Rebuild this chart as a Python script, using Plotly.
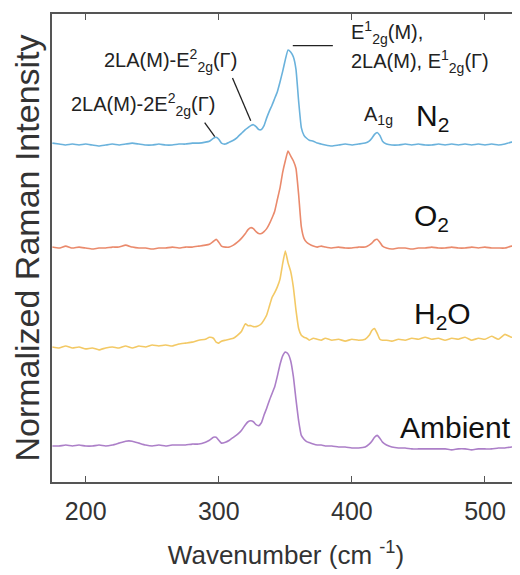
import plotly.graph_objects as go

# ---------------- data ----------------
wavenumber = [175, 180, 185, 190, 195, 200, 205, 210, 215, 220, 225, 230, 235, 240, 245, 250,
              255, 260, 265, 270, 275, 280, 285, 290,
              293, 296, 298, 300, 302, 305, 308, 311, 314, 317, 320, 322, 324, 326, 328, 330,
              332, 334, 336, 338, 340, 342, 344, 346, 348, 350, 352, 354, 356, 358, 360, 362,
              364, 366, 368, 371, 374, 377, 380,
              385, 390, 395, 400, 405, 410, 413, 415, 417, 419, 421, 423, 426, 430,
              435, 440, 445, 450, 455, 460, 465, 470, 475, 480, 485, 490, 495, 500, 505, 510,
              515, 520, 525]

n2 = [0.02, 0.01, 0.00, 0.01, 0.00, 0.01, 0.00, -0.01, 0.00, 0.01, 0.00, 0.01, 0.02, 0.01, 0.00, 0.00,
      0.01, 0.00, 0.00, 0.01, 0.01, 0.02, 0.02, 0.03,
      0.04, 0.07, 0.08, 0.06, 0.02, 0.01, 0.03, 0.05, 0.08, 0.12, 0.16, 0.18, 0.20, 0.21, 0.19, 0.16,
      0.16, 0.20, 0.28, 0.35, 0.41, 0.48, 0.55, 0.65, 0.76, 0.88, 0.98, 0.96, 0.91, 0.78, 0.45, 0.18,
      0.10, 0.07, 0.05, 0.04, 0.02, 0.01, 0.00,
      -0.01, 0.00, 0.01, 0.00, 0.01, 0.02, 0.04, 0.07, 0.11, 0.13, 0.10, 0.04, 0.01, 0.00,
      0.00, 0.01, 0.00, 0.01, 0.00, 0.00, 0.01, 0.00, 0.01, 0.00, 0.01, 0.00, 0.01, 0.00, 0.01, 0.00,
      0.01, 0.03, 0.02]

o2 = [0.01, 0.00, 0.02, 0.00, 0.01, 0.00, -0.01, 0.00, 0.00, 0.01, 0.01, 0.03, 0.01, 0.00, 0.00, -0.01,
      0.00, 0.00, 0.01, 0.00, 0.01, 0.01, 0.02, 0.03,
      0.04, 0.07, 0.09, 0.06, 0.02, 0.01, 0.01, 0.03, 0.06, 0.10, 0.15, 0.19, 0.21, 0.20, 0.17, 0.15,
      0.15, 0.17, 0.20, 0.25, 0.31, 0.38, 0.50, 0.62, 0.78, 0.90, 1.00, 0.95, 0.90, 0.82, 0.55, 0.22,
      0.10, 0.06, 0.04, 0.02, 0.01, 0.02, 0.01,
      0.00, 0.01, 0.00, 0.00, 0.01, 0.01, 0.03, 0.05, 0.08, 0.09, 0.06, 0.02, 0.00, -0.01,
      0.00, 0.00, -0.01, 0.00, 0.00, 0.01, 0.00, 0.00, 0.01, 0.00, 0.00, 0.01, 0.00, 0.01, 0.00, 0.00,
      0.00, 0.02, 0.01]

h2o = [0.00, -0.01, 0.01, -0.01, 0.00, -0.02, -0.01, -0.03, -0.01, 0.00, -0.01, 0.01, -0.01, 0.01, 0.00, 0.02,
       0.01, 0.02, 0.01, 0.03, 0.04, 0.05, 0.07, 0.08,
       0.10, 0.09, 0.05, 0.04, 0.06, 0.07, 0.08, 0.09, 0.12, 0.16, 0.24, 0.22, 0.22, 0.21, 0.21, 0.22,
       0.24, 0.28, 0.33, 0.42, 0.51, 0.56, 0.62, 0.70, 0.86, 0.99, 0.87, 0.78, 0.62, 0.38, 0.19, 0.12,
       0.10, 0.09, 0.07, 0.09, 0.08, 0.07, 0.09,
       0.07, 0.08, 0.06, 0.08, 0.07, 0.08, 0.12, 0.17, 0.19, 0.14, 0.08, 0.07, 0.07, 0.06,
       0.08, 0.07, 0.09, 0.08, 0.10, 0.08, 0.09, 0.07, 0.09, 0.08, 0.10, 0.07, 0.09, 0.08, 0.11, 0.08,
       0.13, 0.10, 0.11]

ambient = [0.00, 0.00, 0.01, 0.00, 0.01, 0.00, 0.00, 0.01, 0.00, 0.01, 0.03, 0.05, 0.05, 0.03, 0.01, 0.00,
           0.01, 0.00, 0.01, 0.01, 0.01, 0.02, 0.02, 0.04,
           0.06, 0.09, 0.09, 0.06, 0.03, 0.04, 0.06, 0.09, 0.12, 0.16, 0.22, 0.25, 0.26, 0.25, 0.22, 0.21,
           0.24, 0.32, 0.39, 0.47, 0.54, 0.61, 0.72, 0.84, 0.93, 0.97, 0.95, 0.88, 0.72, 0.48, 0.26, 0.11,
           0.07, 0.045, 0.035, 0.02, 0.01, 0.01, 0.00,
           0.00, -0.01, -0.01, -0.02, -0.02, -0.01, 0.02, 0.05, 0.09, 0.11, 0.08, 0.04, 0.01, -0.01,
           -0.02, -0.02, -0.03, -0.03, -0.03, -0.03, -0.03, -0.03, -0.04, -0.03, -0.03, -0.04, -0.03, -0.03, -0.03, -0.02,
           -0.02, -0.01, -0.02]

series_names = ["N<sub>2</sub>", "O<sub>2</sub>", "H<sub>2</sub>O", "Ambient"]
series_values = [n2, o2, h2o, ambient]
series_offsets = [3.474, 2.412, 1.392, 0.371]
series_colors = ["#6ab2dc", "#ea8a6c", "#f3c965", "#ac7fc8"]

x_ticks = [200, 300, 400, 500]

# ---------------- figure ----------------
fig = go.Figure()
for name, vals, off, col in zip(series_names, series_values, series_offsets, series_colors):
    fig.add_trace(go.Scatter(
        x=wavenumber, y=[v + off for v in vals], mode="lines", name=name,
        line=dict(color=col, width=1.6, shape="spline", smoothing=0.4),
        showlegend=False, hoverinfo="skip"))

FONT = "Arial, Liberation Sans, sans-serif"

# series labels
label_pos = [(460.5, 3.76), (460.0, 2.73), (468.0, 1.72), (477.7, 0.56)]
for name, (lx, ly) in zip(series_names, label_pos):
    fig.add_annotation(x=lx, y=ly, text=name, showarrow=False,
                       font=dict(family=FONT, size=30, color="#111"),
                       xanchor="center", yanchor="middle")

# peak labels
peak_labels = [
    ("2LA(M)-2E<sup>2</sup><sub>2g</sub>(Γ)", 299.0, 3.89, "right"),
    ("2LA(M)-E<sup>2</sup><sub>2g</sub>(Γ)", 315.5, 4.35, "right"),
    ("E<sup>1</sup><sub>2g</sub>(M),", 398.0, 4.63, "left"),
    ("2LA(M), E<sup>1</sup><sub>2g</sub>(Γ)", 398.0, 4.34, "left"),
    ("A<sub>1g</sub>", 420.0, 3.78, "center"),
]
for txt, lx, ly, anc in peak_labels:
    fig.add_annotation(x=lx, y=ly, text=txt, showarrow=False,
                       font=dict(family=FONT, size=20, color="#222"),
                       xanchor=anc, yanchor="middle")

# leader lines (label -> peak)
leaders = [
    (289.4, 3.704, 297.0, 3.560),
    (310.3, 4.165, 324.0, 3.725),
    (355.6, 4.498, 385.7, 4.498),
]
for x0, y0, x1, y1 in leaders:
    fig.add_shape(type="line", x0=x0, y0=y0, x1=x1, y1=y1, xref="x", yref="y",
                  line=dict(color="#222", width=1.3))

axis_col = "#555"
fig.update_xaxes(range=[174.7, 526.3], tickvals=x_ticks, ticks="inside", ticklen=6,
                 tickwidth=1.3, tickcolor=axis_col, showline=True, linecolor=axis_col,
                 linewidth=1.5, mirror="ticks", showgrid=False, zeroline=False, automargin=False,
                 ticklabelstandoff=6,
                 tickfont=dict(family=FONT, size=25, color="#333"),
                 title=dict(text="Wavenumber (cm <sup>-1</sup>)",
                            font=dict(family=FONT, size=26, color="#333"), standoff=22))
fig.update_yaxes(range=[0, 4.825], showticklabels=False, ticks="", showline=True,
                 linecolor=axis_col, linewidth=1.5, mirror=False, showgrid=False, zeroline=False,
                 automargin=False,
                 title=dict(text="Normalized Raman Intensity",
                            font=dict(family=FONT, size=34, color="#333"), standoff=8))

# page body has an 8px default margin: size the figure so the plot lands where the reference has it
fig.update_layout(width=512, height=567, margin=dict(l=44, r=0, t=6, b=93),
                  paper_bgcolor="white", plot_bgcolor="white")

fig.write_html("out.html")
